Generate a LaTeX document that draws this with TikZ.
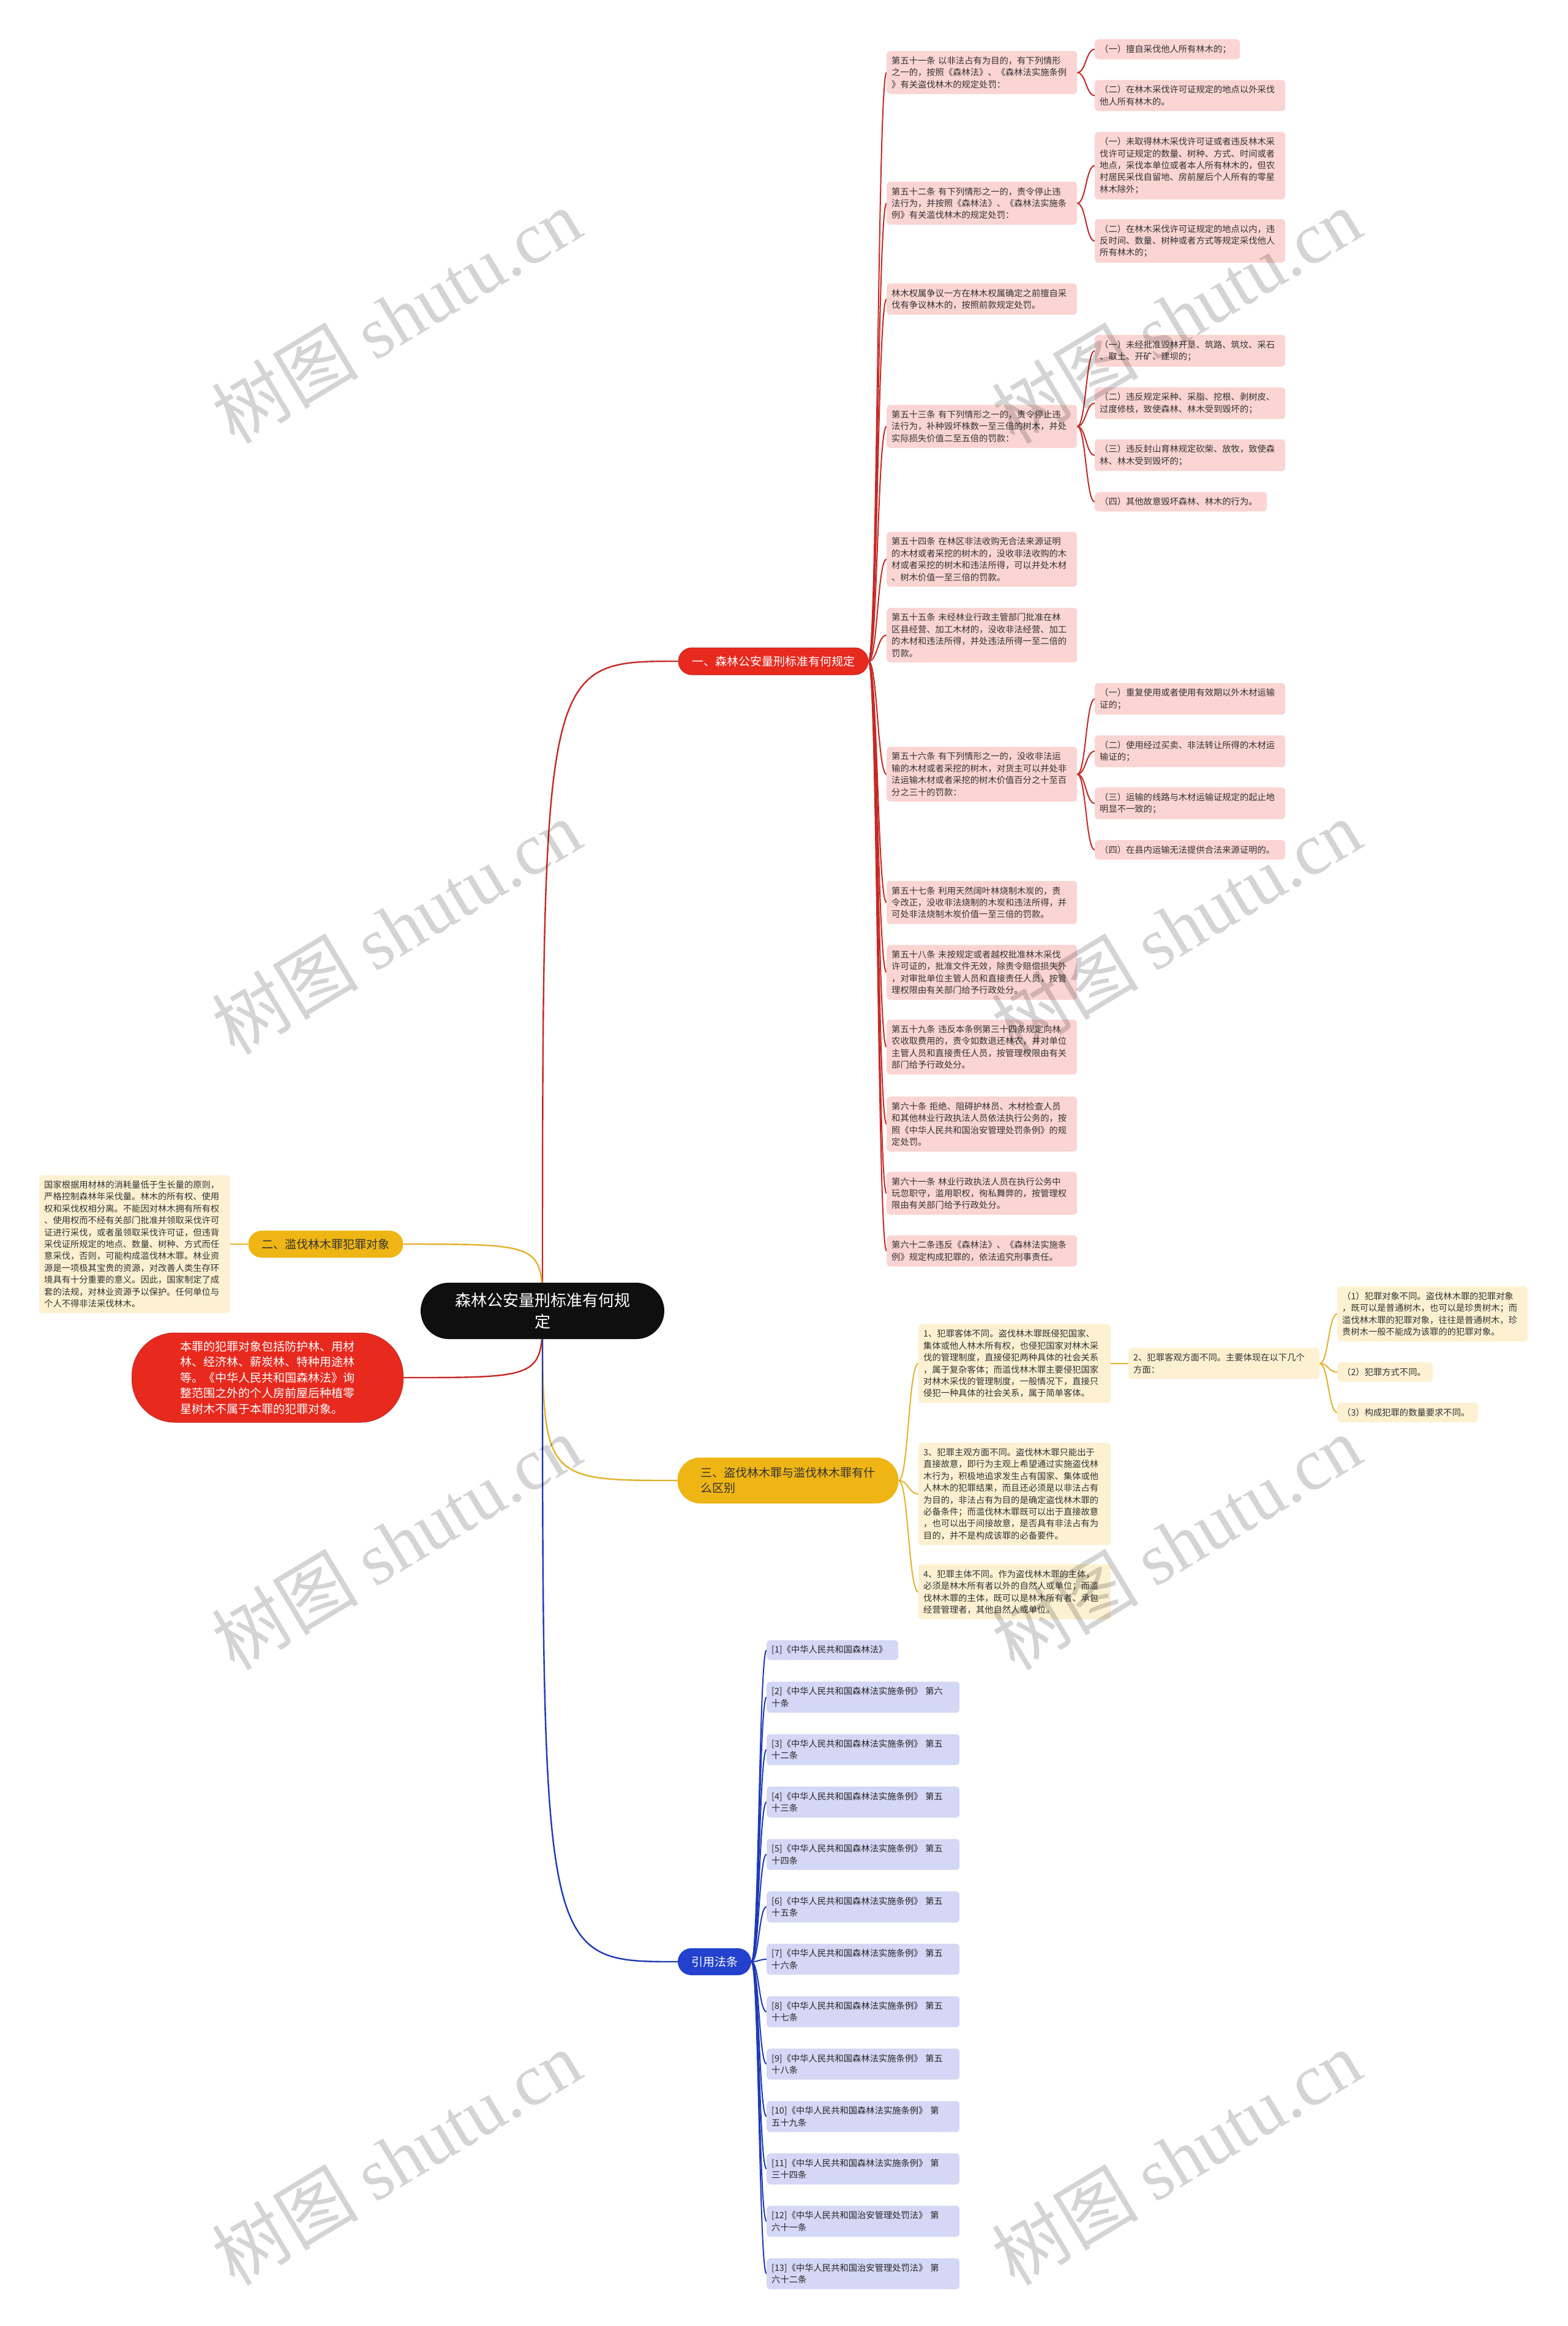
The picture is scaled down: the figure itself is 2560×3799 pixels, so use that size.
\documentclass[tikz,border=0pt]{standalone}
\usepackage{fontspec}
\setmainfont{Noto Sans CJK SC}
\newfontfamily\wmfont{Liberation Serif}
\usetikzlibrary{calc,backgrounds}
\definecolor{ink}{HTML}{333333}
\definecolor{rootbg}{HTML}{0F0F0F}
\definecolor{rmain}{HTML}{E8291E}
\definecolor{rdark}{HTML}{C42A25}
\definecolor{rpale}{HTML}{FBD5D3}
\definecolor{ymain}{HTML}{EFB514}
\definecolor{yline}{HTML}{E3B12C}
\definecolor{ypale}{HTML}{FDF1D2}
\definecolor{bmain}{HTML}{2341CC}
\definecolor{bline}{HTML}{1E3AB4}
\definecolor{bpale}{HTML}{D4D8F6}
\newcommand{\fsm}{\fontsize{14.3}{19.4}\selectfont}
\newcommand{\fmd}{\fontsize{19}{25.4}\selectfont}
\tikzset{
  rootbox/.style={fill=rootbg, text=white, rounded corners=46, align=center,
                  font=\fontsize{26}{35}\selectfont, minimum width=398, minimum height=92, inner sep=0},
  secbox/.style={rounded corners=22, font=\fmd, minimum height=44, inner xsep=22, inner ysep=0},
  detail/.style={rounded corners=6, text=ink, font=\fsm, align=left, text width=295,
                 inner xsep=8, inner ysep=9, anchor=west},
  rdet/.style={detail, fill=rpale},
  ydet/.style={detail, fill=ypale},
  bdet/.style={detail, fill=bpale, text=black!85, text width=299},
  rln/.style={draw=rdark, line width=2},
  yln/.style={draw=yline, line width=2},
  bln/.style={draw=bline, line width=2},
  % ---- curved mind-map branch ----
  mlink/.style={to path={let \p1=(\tikztostart), \p2=(\tikztotarget) in
    (\p1) .. controls ({0.5*\x1+0.5*\x2},\y1) and ({0.5*\x1+0.5*\x2},\y2) .. (\p2)}},
  wmark/.style={rotate=31, text=black, text opacity=0.17, font=\fontsize{120}{120}\selectfont},
}

\begin{document}
\begin{tikzpicture}[x=1pt, y=-1pt]
\useasboundingbox (0,0) rectangle (2560,3799);
% root and main branches
\node[rootbox] (root) at (886,2141) {森林公安量刑标准有何规\\定};
\node[secbox, fill=rmain, draw=rdark, line width=1, text=white] (s1) at (1263,1080) {一、森林公安量刑标准有何规定};
\node[secbox, fill=ymain, text=ink] (s2) at (532,2032) {二、滥伐林木罪犯罪对象};
\node[secbox, fill=ymain, text=ink, align=left, text width=285, inner xsep=38,
      minimum height=75, rounded corners=37] (s3) at (1287,2418) {三、盗伐林木罪与滥伐林木罪有什\\么区别};
\node[secbox, fill=bmain, text=white] (s4) at (1167,3204) {引用法条};

% left side
\node[ydet, text width=296] (lt) at (64,2032) {国家根据用材林的消耗量低于生长量的原则，\\严格控制森林年采伐量。林木的所有权、使用\\权和采伐权相分离。不能因对林木拥有所有权\\、使用权而不经有关部门批准并领取采伐许可\\证进行采伐，或者虽领取采伐许可证，但违背\\采伐证所规定的地点、数量、树种、方式而任\\意采伐，否则，可能构成滥伐林木罪。林业资\\源是一项极其宝贵的资源，对改善人类生存环\\境具有十分重要的意义。因此，国家制定了成\\套的法规，对林业资源予以保护。任何单位与\\个人不得非法采伐林木。};
\node[fill=rmain, draw=rdark, line width=1, text=white, rounded corners=70, font=\fmd, align=left,
      minimum width=443, minimum height=146, inner sep=0] (rn) at (437,2250) {本罪的犯罪对象包括防护林、用材\\林、经济林、薪炭林、特种用途林\\等。《中华人民共和国森林法》询\\整范围之外的个人房前屋后种植零\\星树木不属于本罪的犯罪对象。};

% section 1 articles
\node[rdet] (a51) at (1448,118.5) {第五十一条 以非法占有为目的，有下列情形\\之一的，按照《森林法》、《森林法实施条例\\》有关盗伐林木的规定处罚：};
\node[rdet] (a52) at (1448,332) {第五十二条 有下列情形之一的，责令停止违\\法行为，并按照《森林法》、《森林法实施条\\例》有关滥伐林木的规定处罚：};
\node[rdet] (aqs) at (1448,488.5) {林木权属争议一方在林木权属确定之前擅自采\\伐有争议林木的，按照前款规定处罚。};
\node[rdet] (a53) at (1448,696.5) {第五十三条 有下列情形之一的，责令停止违\\法行为，补种毁坏株数一至三倍的树木，并处\\实际损失价值二至五倍的罚款：};
\node[rdet] (a54) at (1448,913.5) {第五十四条 在林区非法收购无合法来源证明\\的木材或者采挖的树木的，没收非法收购的木\\材或者采挖的树木和违法所得，可以并处木材\\、树木价值一至三倍的罚款。};
\node[rdet] (a55) at (1448,1037.5) {第五十五条 未经林业行政主管部门批准在林\\区县经营、加工木材的，没收非法经营、加工\\的木材和违法所得，并处违法所得一至二倍的\\罚款。};
\node[rdet] (a56) at (1448,1264.5) {第五十六条 有下列情形之一的，没收非法运\\输的木材或者采挖的树木，对货主可以并处非\\法运输木材或者采挖的树木价值百分之十至百\\分之三十的罚款：};
\node[rdet] (a57) at (1448,1474) {第五十七条 利用天然阔叶林烧制木炭的，责\\令改正，没收非法烧制的木炭和违法所得，并\\可处非法烧制木炭价值一至三倍的罚款。};
\node[rdet] (a58) at (1448,1588) {第五十八条 未按规定或者越权批准林木采伐\\许可证的，批准文件无效，除责令赔偿损失外\\，对审批单位主管人员和直接责任人员，按管\\理权限由有关部门给予行政处分。};
\node[rdet] (a59) at (1448,1710) {第五十九条 违反本条例第三十四条规定向林\\农收取费用的，责令如数退还林农，并对单位\\主管人员和直接责任人员，按管理权限由有关\\部门给予行政处分。};
\node[rdet] (a60) at (1448,1836) {第六十条 拒绝、阻碍护林员、木材检查人员\\和其他林业行政执法人员依法执行公务的，按\\照《中华人民共和国治安管理处罚条例》的规\\定处罚。};
\node[rdet] (a61) at (1448,1949) {第六十一条 林业行政执法人员在执行公务中\\玩忽职守，滥用职权，徇私舞弊的，按管理权\\限由有关部门给予行政处分。};
\node[rdet] (a62) at (1448,2043) {第六十二条违反《森林法》、《森林法实施条\\例》规定构成犯罪的，依法追究刑事责任。};

% section 1 items
\node[rdet, text width=221] (b511) at (1788,80.5) {（一）擅自采伐他人所有林木的；};
\node[rdet] (b512) at (1788,156) {（二）在林木采伐许可证规定的地点以外采伐\\他人所有林木的。};
\node[rdet] (b521) at (1788,270.5) {（一）未取得林木采伐许可证或者违反林木采\\伐许可证规定的数量、树种、方式、时间或者\\地点，采伐本单位或者本人所有林木的，但农\\村居民采伐自留地、房前屋后个人所有的零星\\林木除外；};
\node[rdet] (b522) at (1788,393.5) {（二）在林木采伐许可证规定的地点以内，违\\反时间、数量、树种或者方式等规定采伐他人\\所有林木的；};
\node[rdet] (b531) at (1788,573) {（一）未经批准毁林开垦、筑路、筑坟、采石\\、取土、开矿、建坝的；};
\node[rdet] (b532) at (1788,658.5) {（二）违反规定采种、采脂、挖根、剥树皮、\\过度修枝，致使森林、林木受到毁坏的；};
\node[rdet] (b533) at (1788,743.5) {（三）违反封山育林规定砍柴、放牧，致使森\\林、林木受到毁坏的；};
\node[rdet, text width=265] (b534) at (1788,819.5) {（四）其他故意毁坏森林、林木的行为。};
\node[rdet] (b561) at (1788,1141.5) {（一）重复使用或者使用有效期以外木材运输\\证的；};
\node[rdet] (b562) at (1788,1227) {（二）使用经过买卖、非法转让所得的木材运\\输证的；};
\node[rdet] (b563) at (1788,1312) {（三）运输的线路与木材运输证规定的起止地\\明显不一致的；};
\node[rdet] (b564) at (1788,1388) {（四）在县内运输无法提供合法来源证明的。};

% section 3
\node[ydet, text width=298] (c1) at (1500,2227) {1、犯罪客体不同。盗伐林木罪既侵犯国家、\\集体或他人林木所有权，也侵犯国家对林木采\\伐的管理制度，直接侵犯两种具体的社会关系\\，属于复杂客体；而滥伐林木罪主要侵犯国家\\对林木采伐的管理制度，一般情况下，直接只\\侵犯一种具体的社会关系，属于简单客体。};
\node[ydet, text width=296] (c2) at (1843,2227) {2、犯罪客观方面不同。主要体现在以下几个\\方面：};
\node[ydet, text width=298] (c3) at (1500,2440) {3、犯罪主观方面不同。盗伐林木罪只能出于\\直接故意，即行为主观上希望通过实施盗伐林\\木行为，积极地追求发生占有国家、集体或他\\人林木的犯罪结果，而且还必须是以非法占有\\为目的，非法占有为目的是确定盗伐林木罪的\\必备条件；而滥伐林木罪既可以出于直接故意\\，也可以出于间接故意，是否具有非法占有为\\目的，并不是构成该罪的必备要件。};
\node[ydet, text width=298] (c4) at (1500,2600) {4、犯罪主体不同。作为盗伐林木罪的主体，\\必须是林木所有者以外的自然人或单位；而滥\\伐林木罪的主体，既可以是林木所有者、承包\\经营管理者，其他自然人或单位。};
\node[ydet] (d1) at (2184,2146) {（1）犯罪对象不同。盗伐林木罪的犯罪对象\\，既可以是普通树木，也可以是珍贵树木；而\\滥伐林木罪的犯罪对象，往往是普通树木，珍\\贵树木一般不能成为该罪的的犯罪对象。};
\node[ydet, text width=140] (d2) at (2184,2241) {（2）犯罪方式不同。};
\node[ydet, text width=214] (d3) at (2184,2307) {（3）构成犯罪的数量要求不同。};

% references
\node[bdet, text width=199] (r1) at (1252,2695) {[1]《中华人民共和国森林法》};
\foreach \k/\yc/\txt in {
  2/2772/{[2]《中华人民共和国森林法实施条例》~第六\\十条},
  3/2857.6/{[3]《中华人民共和国森林法实施条例》~第五\\十二条},
  4/2943.2/{[4]《中华人民共和国森林法实施条例》~第五\\十三条},
  5/3028.8/{[5]《中华人民共和国森林法实施条例》~第五\\十四条},
  6/3114.4/{[6]《中华人民共和国森林法实施条例》~第五\\十五条},
  7/3200/{[7]《中华人民共和国森林法实施条例》~第五\\十六条},
  8/3285.6/{[8]《中华人民共和国森林法实施条例》~第五\\十七条},
  9/3371.2/{[9]《中华人民共和国森林法实施条例》~第五\\十八条},
  10/3456.8/{[10]《中华人民共和国森林法实施条例》~第\\五十九条},
  11/3542.4/{[11]《中华人民共和国森林法实施条例》~第\\三十四条},
  12/3628/{[12]《中华人民共和国治安管理处罚法》~第\\六十一条},
  13/3713.6/{[13]《中华人民共和国治安管理处罚法》~第\\六十二条}}
  \node[bdet] (r\k) at (1252,\yc) {\txt};

% connectors
\begin{scope}[on background layer]
  \fill[white] (0,0) rectangle (2560,3799);
  \draw[rln, line width=2.4] (root.center) .. controls (root.center |- s1.west) .. (s1.west);
  \draw[yln, line width=2.4] (root.center) .. controls (root.center |- s2.east) .. (s2.east);
  \draw[rln, line width=2.4] (root.center) .. controls (root.center |- rn.east) .. (rn.east);
  \draw[yln, line width=2.4] (root.center) .. controls (root.center |- s3.west) .. (s3.west);
  \draw[bln, line width=2.4] (root.center) .. controls (root.center |- s4.west) .. (s4.west);
  \draw[yln] (s2.west) -- (lt.east);
  \foreach \t in {a51,a52,aqs,a53,a54,a55,a56,a57,a58,a59,a60,a61,a62}
    \draw[rln] (s1.east) to[mlink] (\t.west);
  \foreach \t in {b511,b512} \draw[rln] (a51.east) to[mlink] (\t.west);
  \foreach \t in {b521,b522} \draw[rln] (a52.east) to[mlink] (\t.west);
  \foreach \t in {b531,b532,b533,b534} \draw[rln] (a53.east) to[mlink] (\t.west);
  \foreach \t in {b561,b562,b563,b564} \draw[rln] (a56.east) to[mlink] (\t.west);
  \foreach \t in {c1,c3,c4} \draw[yln] (s3.east) to[mlink] (\t.west);
  \draw[yln] (c1.east) -- (c2.west);
  \foreach \t in {d1,d2,d3} \draw[yln] (c2.east) to[mlink] (\t.west);
  \foreach \k in {1,...,13} \draw[bln] (s4.east) to[mlink] (r\k.west);
\end{scope}

% watermarks
\foreach \wx/\wy [count=\w] in {647/516,1921/516,647/1514,1921/1514,647/2519,1921/2519,647/3524,1921/3524}
  \node[wmark] (wm\w) at (\wx,\wy) {树图~{\wmfont shutu.cn}};
\end{tikzpicture}
\end{document}
